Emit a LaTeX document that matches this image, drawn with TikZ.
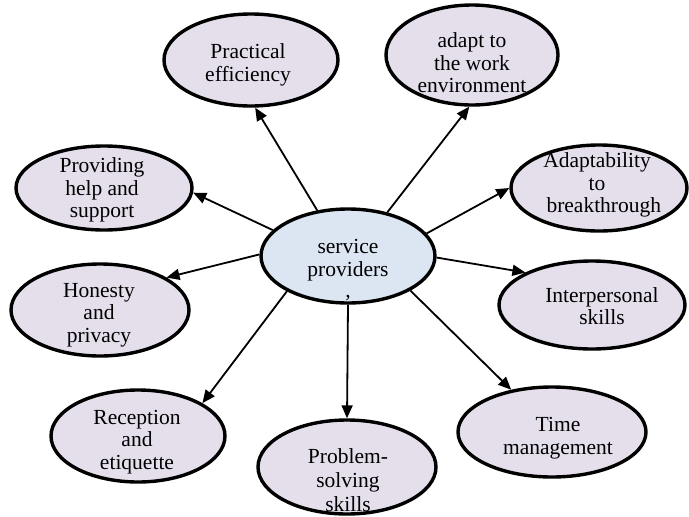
\documentclass[tikz,border=0pt]{standalone}
\usepackage{fontspec}
\setmainfont{Liberation Serif}
\usetikzlibrary{shapes.geometric,arrows.meta}
\definecolor{hubfill}{HTML}{DCE6F2}
\definecolor{bubfill}{HTML}{E5DFEC}
\tikzset{
  bub/.style={ellipse, draw=black, line width=3.4pt, fill=bubfill, inner sep=0pt},
  hub/.style={bub, fill=hubfill},
  txt/.style={align=center, inner sep=0pt, font=\fontsize{21.5}{22.5}\selectfont},
  arr/.style={line width=1.8pt, -{Triangle[length=13pt,width=11pt]}}
}
\begin{document}
\begin{tikzpicture}[x=1pt,y=-1pt]
\useasboundingbox (0,0) rectangle (689,517);
% ellipses
\node[hub, minimum width=174pt, minimum height=94pt] (c)  at (348,256) {};
\node[bub, minimum width=174pt, minimum height=92pt] (pe) at (251,60) {};
\node[bub, minimum width=172pt, minimum height=100pt] (ad) at (472,55) {};
\node[bub, minimum width=176pt, minimum height=84pt] (ph) at (104,188) {};
\node[bub, minimum width=176pt, minimum height=86pt] (ab) at (599,188) {};
\node[bub, minimum width=186pt, minimum height=88pt] (ip) at (592,305) {};
\node[bub, minimum width=188pt, minimum height=90pt] (tm) at (552,432) {};
\node[bub, minimum width=178pt, minimum height=92pt] (hp) at (100,310) {};
\node[bub, minimum width=174pt, minimum height=92pt] (re) at (138,436) {};
\node[bub, minimum width=178pt, minimum height=94pt] (ps) at (347,467) {};
% texts
\node[txt] (ct)  at (348,260) {service\\providers};
\node[txt] (cc)  at (348,298) {,};
\node[txt] (pet) at (248,65) {Practical\\efficiency};
\node[txt] (adt) at (472,63) {adapt to\\the work\\environment};
\node[txt] (pht) at (102,190) {Providing\\help and\\support};
\node[txt] (abt) at (597,185) {Adaptability\\to\\\makebox[101pt][l]{breakthrough}};
\node[txt] (ipt) at (602,306) {Interpersonal\\skills};
\node[txt] (tmt) at (558,438) {Time\\management};
\node[txt] (hpt) at (99,315) {Honesty\\and\\privacy};
\node[txt] (ret) at (137,442) {Reception\\and\\etiquette};
\node[txt, font=\fontsize{21.5}{24}\selectfont] (pst) at (348,480) {Problem-\\solving\\skills};
% arrows
\draw[arr] (c.124) -- (pe.-85);
\draw[arr] (c.48)  -- (ad.-93);
\draw[arr] (c.161) -- (ph.-3);
\draw[arr] (c.16)  -- (ab.180);
\draw[arr] (c.179) -- (hp.26);
\draw[arr] (c.-1)  -- (ip.154);
\draw[arr] (c.210) -- (re.27);
\draw[arr] (c.270) -- (ps.90);
\draw[arr] (c.-29) -- (tm.134);
\end{tikzpicture}
\end{document}
